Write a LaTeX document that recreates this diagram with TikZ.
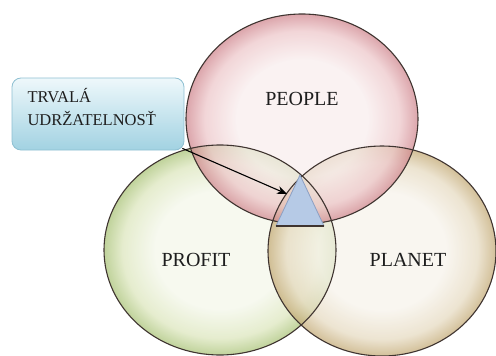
\documentclass[tikz,border=0pt]{standalone}
\usepackage{fontspec}
\setmainfont{Liberation Serif}
\usetikzlibrary{shapes.geometric,arrows.meta}
\definecolor{pkin}{HTML}{F9EEEE}
\definecolor{pkmid}{HTML}{EDC6C9}
\definecolor{pkout}{HTML}{CF848C}
\definecolor{grin}{HTML}{F4F7EA}
\definecolor{grmid}{HTML}{DCE6BC}
\definecolor{grout}{HTML}{A8C275}
\definecolor{tnin}{HTML}{F7F3EB}
\definecolor{tnmid}{HTML}{E6DAC0}
\definecolor{tnout}{HTML}{C2A872}
\definecolor{edge}{HTML}{3F3430}
\definecolor{txt}{HTML}{1E1E1E}
\definecolor{boxtop}{HTML}{EEF8FB}
\definecolor{boxbot}{HTML}{A2D2E2}
\definecolor{boxedge}{HTML}{8EC0D2}
\definecolor{trifill}{HTML}{B6CAE6}
\definecolor{triedge}{HTML}{8C9FC2}
\pgfdeclareradialshading{peopleshade}{\pgfpoint{0bp}{0bp}}{color(0bp)=(pkin); color(14bp)=(pkin); color(21bp)=(pkmid); color(25bp)=(pkout); color(50bp)=(pkout)}
\pgfdeclareradialshading{profitshade}{\pgfpoint{0bp}{0bp}}{color(0bp)=(grin); color(14bp)=(grin); color(21bp)=(grmid); color(25bp)=(grout); color(50bp)=(grout)}
\pgfdeclareradialshading{planetshade}{\pgfpoint{0bp}{0bp}}{color(0bp)=(tnin); color(14bp)=(tnin); color(21bp)=(tnmid); color(25bp)=(tnout); color(50bp)=(tnout)}
\tikzset{
  venn/.style={ellipse, inner sep=0pt, minimum width=232pt, minimum height=210pt, fill opacity=0.72},
  vennedge/.style={ellipse, inner sep=0pt, minimum width=232pt, minimum height=210pt, draw=edge, line width=1.1pt},
  lbl/.style={font=\fontsize{20}{22}\selectfont, text=txt},
  callout/.style={draw=boxedge, line width=0.8pt, rounded corners=9pt, top color=boxtop, bottom color=boxbot, minimum width=172pt, minimum height=72pt, inner sep=0pt}
}
\begin{document}
\begin{tikzpicture}[x=1pt,y=-1pt]
\useasboundingbox[fill=white] (0,0) rectangle (496,356);
% circles
\node[venn, shading=profitshade] (profit) at (220,250) {};
\node[venn, shading=planetshade, minimum width=228pt] (planet) at (382,251) {};
\node[venn, shading=peopleshade] (people) at (302,119) {};
\node[vennedge] at (220,250) {};
\node[vennedge, minimum width=228pt] at (382,251) {};
\node[vennedge] at (302,119) {};
% labels
\node[lbl] (tpeople) at (302,99) {PEOPLE};
\node[lbl] (tprofit) at (196,260) {PROFIT};
\node[lbl] (tplanet) at (408,260) {PLANET};
% triangle
\coordinate (ta) at (300,175);
\coordinate (tl) at (276,226);
\coordinate (tr) at (324,226);
\fill[trifill, draw=triedge, line width=0.8pt, line join=round] (ta) -- (tl) -- (tr) -- cycle;
\draw[edge, line width=1.3pt] (tl) -- (tr);
% callout box
\node[callout] (box) at (98,114) {};
\node[font=\fontsize{16.5}{23}\selectfont, text=txt, align=left, anchor=north west] (boxtxt) at (24,85) {TRVALÁ\\UDRŽATELNOSŤ};
\coordinate (tip) at (287,194);
\draw[black, line width=1.1pt, -{Stealth[length=10pt,width=8pt]}] ([xshift=-2pt,yshift=2pt]box.south east) -- (tip);
\end{tikzpicture}
\end{document}
